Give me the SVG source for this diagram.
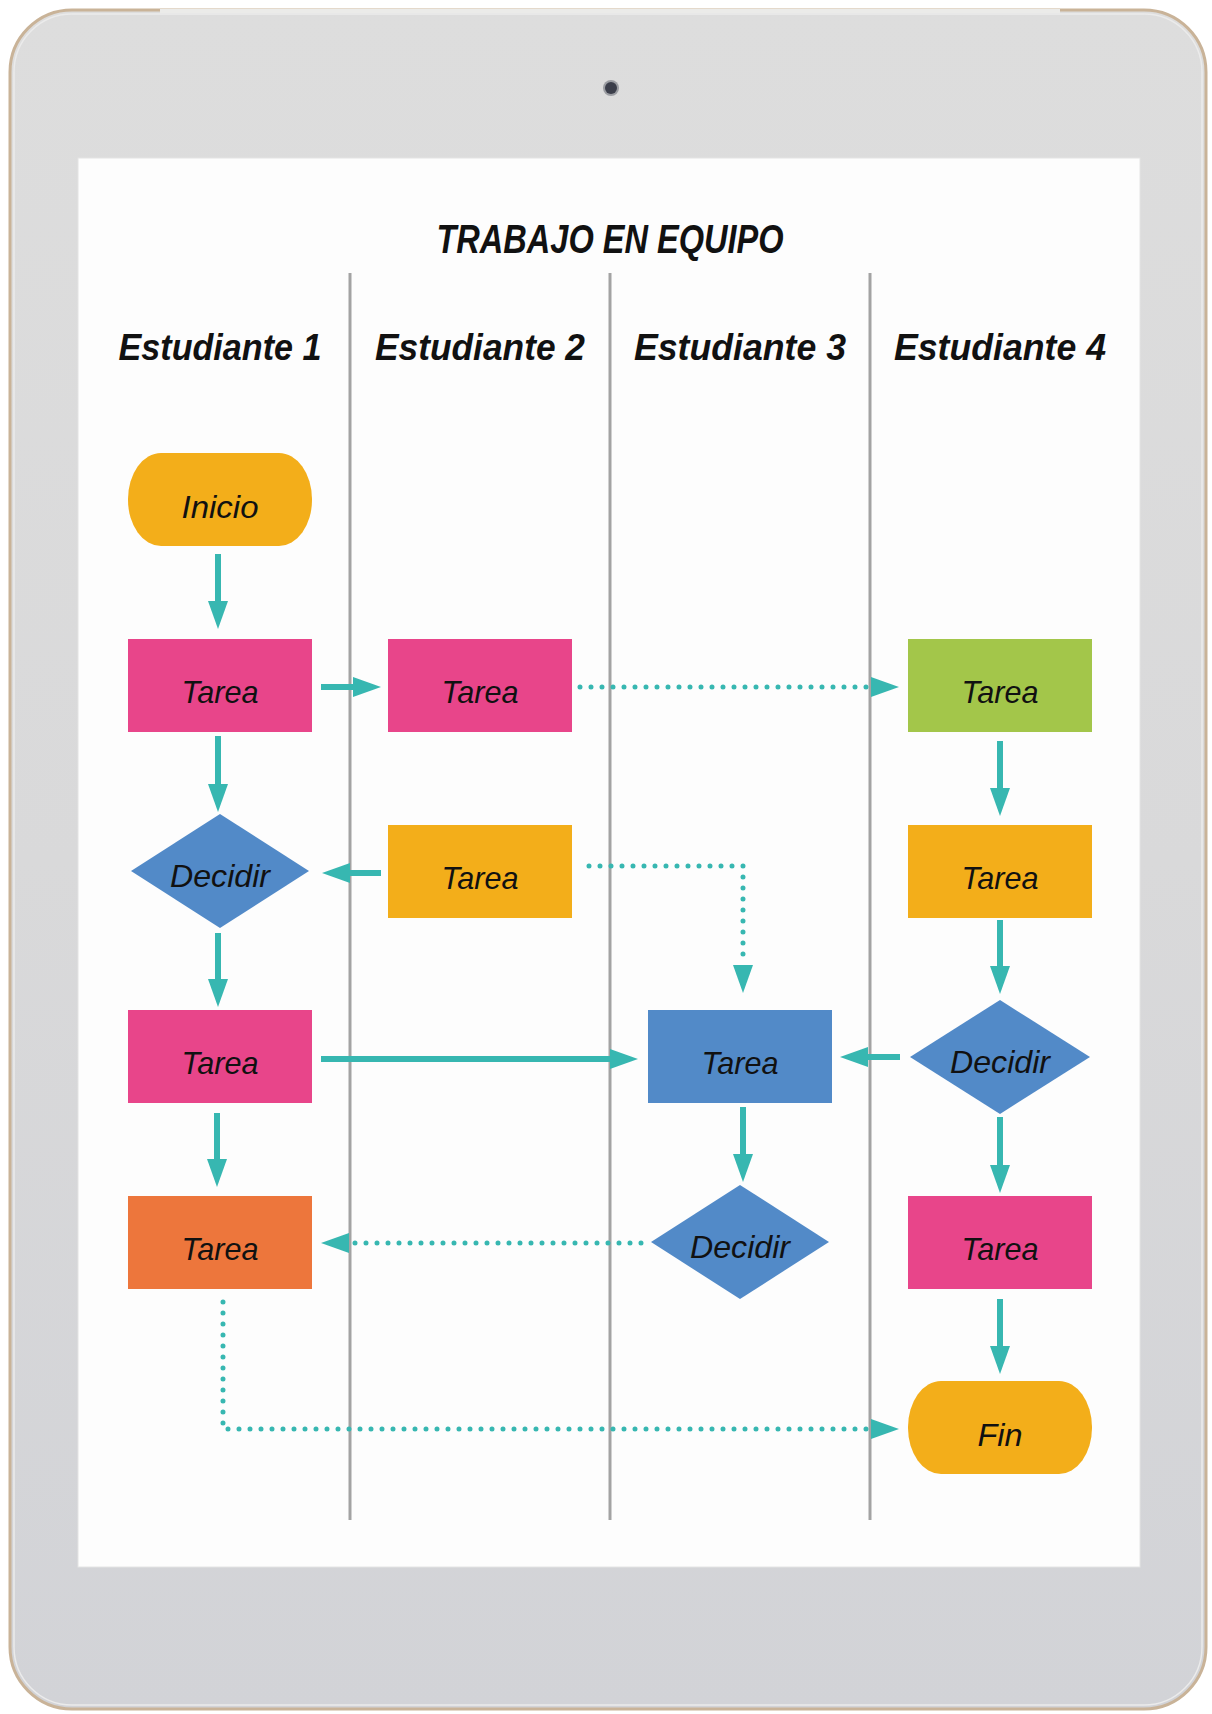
<svg xmlns="http://www.w3.org/2000/svg" width="1212" height="1714" viewBox="0 0 1212 1714">
<defs>
<linearGradient id="body" x1="0" y1="0" x2="0" y2="1">
<stop offset="0" stop-color="#dddddd"/>
<stop offset="0.5" stop-color="#d9d9da"/>
<stop offset="1" stop-color="#d2d3d7"/>
</linearGradient>
<marker id="ah" markerUnits="userSpaceOnUse" markerWidth="28" markerHeight="20" refX="0" refY="10" orient="auto" viewBox="0 0 28 20">
<path d="M0,0 L28,10 L0,20 z" fill="#37b7b1"/>
</marker>
<style>
.solid{fill:none;stroke:#37b7b1;stroke-width:6;marker-end:url(#ah)}
.dot{fill:none;stroke:#37b7b1;stroke-width:5;stroke-linecap:round;stroke-dasharray:0 11;marker-end:url(#ah)}
.lane{stroke:#a3a3a3;stroke-width:3}
.lbl{font-family:"Liberation Sans",Arial,sans-serif;font-style:italic;font-size:32px;fill:#111;text-anchor:middle}
.hdr{font-family:"Liberation Sans",Arial,sans-serif;font-style:italic;font-weight:bold;font-size:37px;fill:#111;text-anchor:middle}
.ttl{font-family:"Liberation Sans",Arial,sans-serif;font-style:italic;font-weight:bold;font-size:40px;fill:#111;text-anchor:middle}
.pink{fill:#e8458a}.yel{fill:#f3ae1a}.grn{fill:#a3c64a}.blu{fill:#528ac8}.org{fill:#ed763c}
</style>
</defs>
<g id="tablet">
<rect x="10" y="10" width="1196" height="1699" rx="62" fill="url(#body)" stroke="#c9b398" stroke-width="3"/>
<rect x="14" y="14" width="1188" height="1691" rx="58" fill="none" stroke="#ebebeb" stroke-width="1.5"/>
<line x1="160" y1="11" x2="1060" y2="11" stroke="#ebebe9" stroke-width="4"/>
<circle cx="611" cy="88" r="8" fill="#5a5d68" opacity="0.5"/>
<circle cx="611" cy="88" r="6" fill="#3b3e4a"/>
<rect x="78" y="158" width="1062" height="1409" fill="#fdfdfd" stroke="#e4e4e4" stroke-width="1"/>
</g>
<g id="lanes">
<line class="lane" x1="350" y1="273" x2="350" y2="1520"/>
<line class="lane" x1="610" y1="273" x2="610" y2="1520"/>
<line class="lane" x1="870" y1="273" x2="870" y2="1520"/>
</g>
<g id="title"><text class="ttl" x="610" y="253" textLength="347" lengthAdjust="spacingAndGlyphs">TRABAJO EN EQUIPO</text></g>
<g id="headers">
<text class="hdr" x="220" y="360" textLength="203" lengthAdjust="spacingAndGlyphs">Estudiante 1</text>
<text class="hdr" x="480" y="360" textLength="210" lengthAdjust="spacingAndGlyphs">Estudiante 2</text>
<text class="hdr" x="740" y="360" textLength="212" lengthAdjust="spacingAndGlyphs">Estudiante 3</text>
<text class="hdr" x="1000" y="360" textLength="212" lengthAdjust="spacingAndGlyphs">Estudiante 4</text>
</g>
<g id="connectors">
<path class="solid" d="M218,554 V601"/>
<path class="solid" d="M218,736 V784"/>
<path class="solid" d="M218,933 V979"/>
<path class="solid" d="M217,1113 V1159"/>
<path class="solid" d="M321,687 H353"/>
<path class="dot" d="M580,687 H871"/>
<path class="solid" d="M381,873 H350"/>
<path class="dot" d="M589,866 H743 V965"/>
<path class="solid" d="M321,1059 H610"/>
<path class="solid" d="M900,1057 H868"/>
<path class="solid" d="M743,1107 V1154"/>
<path class="dot" d="M641,1243 H349"/>
<path class="dot" d="M223,1302 V1429 H871"/>
<path class="solid" d="M1000,741 V788"/>
<path class="solid" d="M1000,920 V966"/>
<path class="solid" d="M1000,1117 V1165"/>
<path class="solid" d="M1000,1299 V1346"/>
</g>
<g id="n-inicio"><rect class="yel" x="128" y="453" width="184" height="93" rx="33" ry="46"/><text class="lbl" x="220" y="518" textLength="77" lengthAdjust="spacingAndGlyphs">Inicio</text></g>
<g id="n-tarea1"><rect class="pink" x="128" y="639" width="184" height="93"/><text class="lbl" x="220" y="703" textLength="77" lengthAdjust="spacingAndGlyphs">Tarea</text></g>
<g id="n-tarea2"><rect class="pink" x="388" y="639" width="184" height="93"/><text class="lbl" x="480" y="703" textLength="77" lengthAdjust="spacingAndGlyphs">Tarea</text></g>
<g id="n-tarea3"><rect class="grn" x="908" y="639" width="184" height="93"/><text class="lbl" x="1000" y="703" textLength="77" lengthAdjust="spacingAndGlyphs">Tarea</text></g>
<g id="n-decidir1"><polygon class="blu" points="131,871 220,814 309,871 220,928"/><text class="lbl" x="220" y="887" textLength="100" lengthAdjust="spacingAndGlyphs">Decidir</text></g>
<g id="n-tarea4"><rect class="yel" x="388" y="825" width="184" height="93"/><text class="lbl" x="480" y="889" textLength="77" lengthAdjust="spacingAndGlyphs">Tarea</text></g>
<g id="n-tarea5"><rect class="yel" x="908" y="825" width="184" height="93"/><text class="lbl" x="1000" y="889" textLength="77" lengthAdjust="spacingAndGlyphs">Tarea</text></g>
<g id="n-tarea6"><rect class="pink" x="128" y="1010" width="184" height="93"/><text class="lbl" x="220" y="1074" textLength="77" lengthAdjust="spacingAndGlyphs">Tarea</text></g>
<g id="n-tarea7"><rect class="blu" x="648" y="1010" width="184" height="93"/><text class="lbl" x="740" y="1074" textLength="77" lengthAdjust="spacingAndGlyphs">Tarea</text></g>
<g id="n-decidir2"><polygon class="blu" points="910,1057 1000,1000 1090,1057 1000,1114"/><text class="lbl" x="1000" y="1073" textLength="100" lengthAdjust="spacingAndGlyphs">Decidir</text></g>
<g id="n-tarea8"><rect class="org" x="128" y="1196" width="184" height="93"/><text class="lbl" x="220" y="1260" textLength="77" lengthAdjust="spacingAndGlyphs">Tarea</text></g>
<g id="n-decidir3"><polygon class="blu" points="651,1242 740,1185 829,1242 740,1299"/><text class="lbl" x="740" y="1258" textLength="100" lengthAdjust="spacingAndGlyphs">Decidir</text></g>
<g id="n-tarea9"><rect class="pink" x="908" y="1196" width="184" height="93"/><text class="lbl" x="1000" y="1260" textLength="77" lengthAdjust="spacingAndGlyphs">Tarea</text></g>
<g id="n-fin"><rect class="yel" x="908" y="1381" width="184" height="93" rx="33" ry="46"/><text class="lbl" x="1000" y="1446" textLength="45" lengthAdjust="spacingAndGlyphs">Fin</text></g>
</svg>
